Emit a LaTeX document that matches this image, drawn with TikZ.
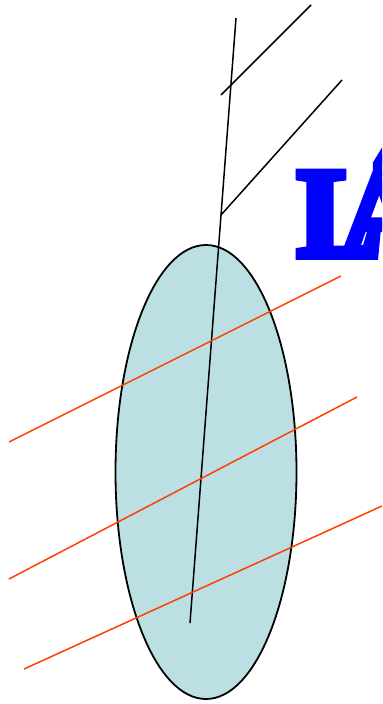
\documentclass[tikz,border=0pt]{standalone}
\usepackage{fontspec}
\newfontfamily\titlefont[FakeBold=6]{Liberation Serif Bold}
\usetikzlibrary{calc}

\definecolor{leafblue}{RGB}{187,223,227}
\definecolor{veinred}{RGB}{255,64,0}

\begin{document}
\begin{tikzpicture}[x=1bp, y=-1bp]
    \useasboundingbox (0,0) rectangle (382,704);
    \clip (0,0) rectangle (382,704);
    \coordinate (C) at (206,472);
    \draw[line width=1.8bp, fill=leafblue] (C) ellipse [x radius=90.5, y radius=227];
    
    % title, cut off by the page edge
    \node[anchor=base west, inner sep=0pt, text=blue, font=\titlefont\fontsize{128}{128}\selectfont] (title) at (297,256) {L\kern-43bp Á};
    
    \coordinate (top) at (236,18); \coordinate (tip) at (190,623);
    \draw[line width=1.5bp] (top) -- (tip);
    
    \coordinate (v1a) at (221,95); \coordinate (v1b) at (311,5);
    \coordinate (v2a) at (221,215); \coordinate (v2b) at (342,80);
    \draw[line width=1.7bp] (v1a) -- (v1b);
    \draw[line width=1.5bp] (v2a) -- (v2b);
    
    \foreach \a/\b in {{(9,442)}/{(341,276)}, {(9,579)}/{(357,397)}, {(24,669)}/{(382,506)}} {
        \draw[veinred, line width=1.5bp] \a -- \b;
    }
\end{tikzpicture}
\end{document}
